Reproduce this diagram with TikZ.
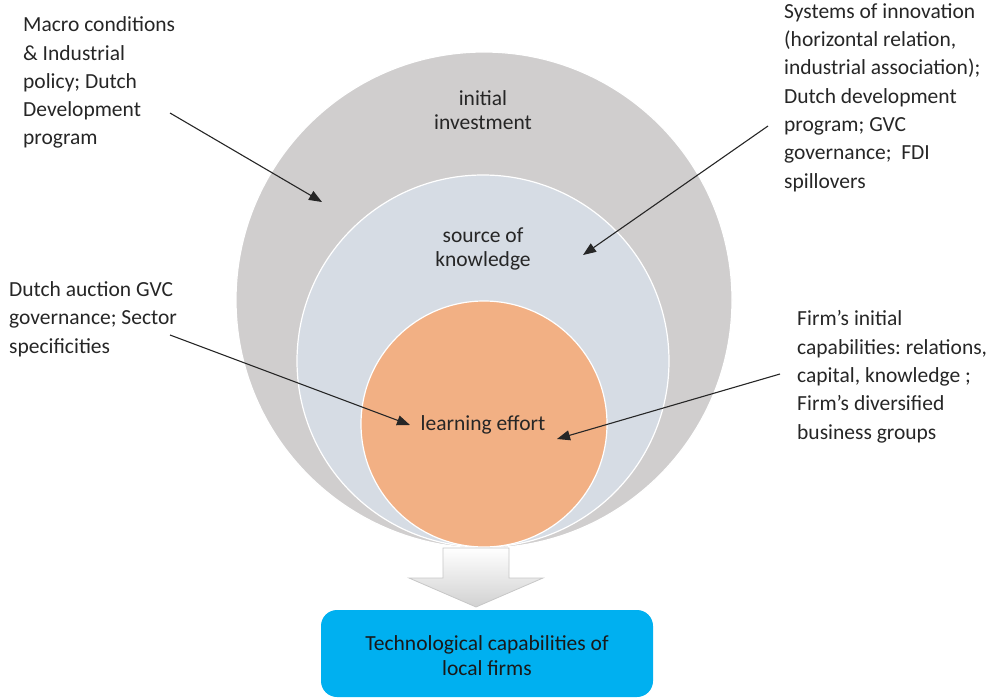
\documentclass[tikz,border=0pt]{standalone}
\usepackage{fontspec}
\setmainfont{Carlito}
\frenchspacing
\usetikzlibrary{arrows.meta}
\definecolor{outergray}{HTML}{D0CECE}
\definecolor{midblue}{HTML}{D6DCE4}
\definecolor{innerorange}{HTML}{F2B084}
\definecolor{boxblue}{HTML}{00B0F0}
\definecolor{txt}{HTML}{262626}
\begin{document}
\begin{tikzpicture}[x=1pt,y=-1pt,
  ring/.style={circle, draw=white, line width=1.2pt, inner sep=0pt},
  sidetext/.style={font=\fontsize{21.5}{28.3}\selectfont, align=left, inner sep=0pt, text=txt, anchor=base west},
  ringtext/.style={font=\fontsize{21.5}{24}\selectfont, align=center, inner sep=0pt, text=txt, anchor=base},
  techbox/.style={rounded corners=16pt, fill=boxblue, minimum width=332pt, minimum height=87pt, inner sep=0pt},
  techtext/.style={font=\fontsize{21.5}{25}\selectfont, align=center, inner sep=0pt, text=black!90, anchor=base},
  conn/.style={-{Triangle[length=13pt,width=10pt]}, line width=1.1pt, draw=black!85}]
\useasboundingbox (0,0) rectangle (988,698);

% nested circles
\node[ring, fill=outergray, minimum size=496pt] (outer) at (484,300) {};
\node[ring, fill=midblue, minimum size=372pt] (middle) at (483,361) {};
\node[ring, fill=innerorange, minimum size=246pt] (inner) at (484,424) {};

% circle labels (base = last line baseline)
\node[ringtext] (invest) at (483,130) {initial\\investment};
\node[ringtext] (source) at (483,266) {source of\\knowledge};
\node[ringtext] (learn) at (483,430) {learning effort};

% side texts (base = last line baseline)
\node[sidetext] (macro) at (23,145) {Macro conditions\\\& Industrial\\policy; Dutch\\Development\\program};
\node[sidetext] (systems) at (784,188) {Systems of innovation\\(horizontal relation,\\industrial association);\\Dutch development\\program; GVC\\governance;\ \ FDI\\spillovers};
\node[sidetext] (auction) at (9,353) {Dutch auction GVC\\governance; Sector\\specificities};
\node[sidetext] (firm) at (797,439) {Firm’s initial\\capabilities: relations,\\capital, knowledge ;\\Firm’s diversified\\business groups};

% connectors
\coordinate (s1) at (170,113); \coordinate (t1) at (322,202);
\coordinate (s2) at (768,126); \coordinate (t2) at (583,255);
\coordinate (s3) at (170,335); \coordinate (t3) at (410,425);
\coordinate (s4) at (780,374); \coordinate (t4) at (557,439);
\draw[conn] (s1) -- (t1);
\draw[conn] (s2) -- (t2);
\draw[conn] (s3) -- (t3);
\draw[conn] (s4) -- (t4);

% block arrow down
\path[top color=white, bottom color=black!18, draw=black!22, line width=0.8pt]
  (443,548) -- (509,548) -- (509,578) -- (543,578) -- (476,607) -- (409,578) -- (443,578) -- cycle;

% result box
\node[techbox] (tech) at (487,653.5) {};
\node[techtext] (techlabel) at (487,675) {Technological capabilities of\\local firms};
\end{tikzpicture}
\end{document}
